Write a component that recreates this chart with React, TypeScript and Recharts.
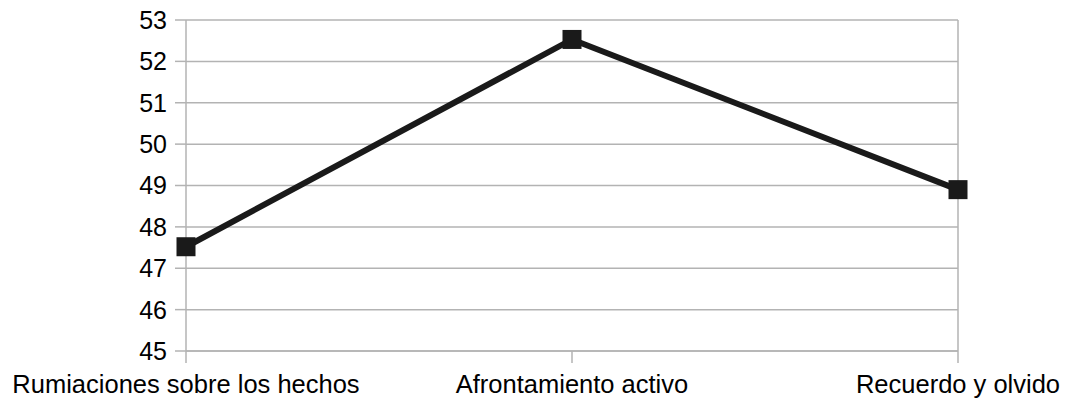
import React from 'react';
import { LineChart, Line, XAxis, YAxis, CartesianGrid, ReferenceLine } from 'recharts';

// Values
const categories = ['Rumiaciones sobre los hechos', 'Afrontamiento activo', 'Recuerdo y olvido'];
const scores = [47.52, 52.53, 48.9];
const yTicks = [45, 46, 47, 48, 49, 50, 51, 52, 53];

const data = categories.map((name, i) => ({ name, value: scores[i] }));

const GRID = '#b3b3b3';
const INK = '#1a1a1a';

const SquareDot = (props: any) => {
  const { cx, cy } = props;
  if (cx == null || cy == null) return null;
  const s = 19;
  return <rect x={cx - s / 2} y={cy - s / 2} width={s} height={s} fill={INK} />;
};

const App = () => {
  return (
    <div style={{ position: 'absolute', left: 0, top: 0, width: 1071, height: 405, background: '#fff' }}>
      <LineChart
        width={1071}
        height={405}
        data={data}
        margin={{ top: 20, right: 113, left: 126, bottom: 0 }}
        style={{ fontFamily: '"Liberation Sans", Arial, sans-serif' }}
      >
        <CartesianGrid vertical={false} stroke={GRID} strokeWidth={1.5} />
        <ReferenceLine x={categories[2]} stroke={GRID} strokeWidth={1.5} />
        <XAxis
          dataKey="name"
          height={54}
          stroke={GRID}
          strokeWidth={1.5}
          tickSize={12}
          tickMargin={12}
          interval={0}
          tick={{ fill: '#000', fontSize: 25.5 }}
        />
        <YAxis
          domain={[45, 53]}
          ticks={yTicks}
          width={60}
          stroke={GRID}
          strokeWidth={1.5}
          tickSize={11}
          tickMargin={8}
          interval={0}
          tick={{ fill: '#000', fontSize: 25 }}
        />
        <Line
          type="linear"
          dataKey="value"
          stroke={INK}
          strokeWidth={6}
          dot={<SquareDot />}
          activeDot={false}
          isAnimationActive={false}
        />
      </LineChart>
    </div>
  );
};

export default App;
